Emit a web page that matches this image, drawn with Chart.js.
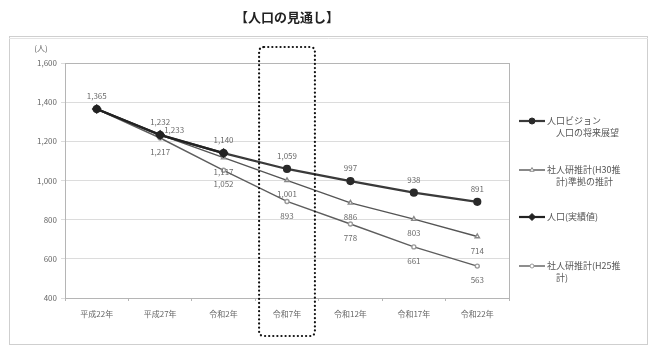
<!DOCTYPE html>
<html lang="ja">
<head>
<meta charset="utf-8">
<title>人口の見通し</title>
<script src="https://cdn.jsdelivr.net/npm/chart.js@4/dist/chart.umd.min.js"></script>
<style>
  html, body { margin: 0; padding: 0; background: #fff; }
  #wrap { width: 655px; height: 349px; position: relative; }
</style>
</head>
<body>
<div id="wrap"><canvas id="c" width="655" height="349"></canvas></div>
<script>
// 年次区分
const categories = ['平成22年', '平成27年', '令和2年', '令和7年', '令和12年', '令和17年', '令和22年'];

// 人口ビジョン 人口の将来展望
const visionValues = [1365, 1232, 1140, 1059, 997, 938, 891];
// 社人研推計(H30推計)準拠の推計
const h30Values = [1365, 1233, 1117, 1001, 886, 803, 714];
// 人口(実績値)
const actualValues = [1365, 1233, 1140, null, null, null, null];
// 社人研推計(H25推計)
const h25Values = [1365, 1217, 1052, 893, 778, 661, 563];

// 軸の目盛
const yTicks = [400, 600, 800, 1000, 1200, 1400, 1600];

// 凡例の表示テキスト(改行位置つき)
const legendVision = ['人口ビジョン', '人口の将来展望'];
const legendH30 = ['社人研推計(H30推', '計)準拠の推計'];
const legendActual = ['人口(実績値)'];
const legendH25 = ['社人研推計(H25推', '計)'];

const JP = '"Noto Sans CJK JP", "Noto Sans", sans-serif';

// 値ラベルの表示位置: 'above' | 'below' | 'right' | null(非表示)
const labelPlacement = {
  vision: [null, 'above', null, 'above', 'above', 'above', 'above'],
  h30:    [null, null, 'below', 'below', 'below', 'below', 'below'],
  actual: ['above', 'right', 'above', null, null, null, null],
  h25:    [null, 'below', 'below', 'below', 'below', 'below', 'below']
};

const fmt = v => v.toLocaleString('en-US');

// 値ラベル描画
const valueLabels = {
  id: 'valueLabels',
  afterDatasetsDraw(chart) {
    const ctx = chart.ctx;
    ctx.save();
    ctx.font = '8px ' + JP;
    ctx.fillStyle = '#6a6a6a';
    ctx.textAlign = 'center';
    ctx.textBaseline = 'middle';
    chart.data.datasets.forEach((ds, i) => {
      const place = labelPlacement[ds.key];
      const meta = chart.getDatasetMeta(i);
      meta.data.forEach((pt, j) => {
        const p = place[j];
        const v = ds.data[j];
        if (!p || v == null) return;
        let x = pt.x, y = pt.y;
        if (p === 'above') y -= 13;
        else if (p === 'below') y += 14;
        else if (p === 'right') { x += 14; y -= 5; }
        ctx.fillText(fmt(v), x, y);
      });
    });
    ctx.restore();
  }
};

// 枠・タイトル・単位・凡例・令和7年の点線枠
const decorations = {
  id: 'decorations',
  beforeDraw(chart) {
    const ctx = chart.ctx;
    ctx.save();
    ctx.fillStyle = '#fff';
    ctx.fillRect(0, 0, chart.width, chart.height);
    // 外枠
    ctx.strokeStyle = '#cfcfcf';
    ctx.lineWidth = 1;
    ctx.strokeRect(9.5, 36.5, 638, 308);
    ctx.strokeStyle = '#e4e4e4';
    ctx.beginPath(); ctx.moveTo(9, 38.5); ctx.lineTo(648, 38.5); ctx.stroke();
    // タイトル
    ctx.fillStyle = '#222';
    ctx.font = 'bold 13px ' + JP;
    ctx.textAlign = 'center';
    ctx.textBaseline = 'middle';
    ctx.fillText('【人口の見通し】', 287, 17);
    // 単位
    ctx.font = '8px ' + JP;
    ctx.fillStyle = '#666';
    ctx.fillText('(人)', 41, 48);
    ctx.restore();
  },
  afterDraw(chart) {
    const ctx = chart.ctx;
    const a = chart.chartArea;
    const xs = chart.scales.x;
    ctx.save();
    // プロットエリア枠
    ctx.strokeStyle = '#b5b5b5';
    ctx.lineWidth = 1;
    ctx.strokeRect(Math.round(a.left) + 0.5, Math.round(a.top) + 0.5, Math.round(a.right - a.left), Math.round(a.bottom - a.top));

    // 凡例
    const items = [
      { ds: 0, text: legendVision, y: 121 },
      { ds: 1, text: legendH30, y: 170 },
      { ds: 2, text: legendActual, y: 217 },
      { ds: 3, text: legendH25, y: 266 }
    ];
    items.forEach(it => {
      const ds = chart.data.datasets[it.ds];
      ctx.strokeStyle = ds.borderColor;
      ctx.lineWidth = ds.borderWidth;
      ctx.beginPath(); ctx.moveTo(519, it.y); ctx.lineTo(545, it.y); ctx.stroke();
      ctx.fillStyle = ds.pointBackgroundColor;
      ctx.strokeStyle = ds.pointBorderColor;
      ctx.lineWidth = 1;
      Chart.helpers.drawPoint(ctx, { pointStyle: ds.pointStyle, radius: ds.pointRadius, borderWidth: 1 }, 532, it.y);
      ctx.fillStyle = '#555';
      ctx.font = '9px ' + JP;
      ctx.textAlign = 'left';
      ctx.textBaseline = 'middle';
      it.text.forEach((t, k) => {
        ctx.fillText(t, k === 0 ? 547 : 556, it.y + k * 12);
      });
    });

    // 令和7年を囲む点線枠
    const cx = xs.getPixelForValue(3);
    const half = (xs.getPixelForValue(1) - xs.getPixelForValue(0)) * 0.44;
    const l = cx - half, r = cx + half, t = a.top - 16, b = a.bottom + 38;
    ctx.strokeStyle = '#111';
    ctx.lineWidth = 2.2;
    ctx.lineCap = 'round';
    ctx.setLineDash([0.1, 4]);
    ctx.beginPath();
    const rad = 5;
    ctx.moveTo(l + rad, t);
    ctx.lineTo(r - rad, t);
    ctx.quadraticCurveTo(r, t, r, t + rad);
    ctx.lineTo(r, b - rad);
    ctx.quadraticCurveTo(r, b, r - rad, b);
    ctx.lineTo(l + rad, b);
    ctx.quadraticCurveTo(l, b, l, b - rad);
    ctx.lineTo(l, t + rad);
    ctx.quadraticCurveTo(l, t, l + rad, t);
    ctx.stroke();
    ctx.restore();
  }
};

const chart = new Chart(document.getElementById('c'), {
  type: 'line',
  data: {
    labels: categories,
    datasets: [
      {
        key: 'vision', label: '人口ビジョン 人口の将来展望', data: visionValues,
        borderColor: '#3a3a3a', borderWidth: 2.2,
        pointStyle: 'circle', pointRadius: 3,
        pointBackgroundColor: '#2a2a2a', pointBorderColor: '#2a2a2a', order: 2
      },
      {
        key: 'h30', label: '社人研推計(H30推計)準拠の推計', data: h30Values,
        borderColor: '#555', borderWidth: 1.4,
        pointStyle: 'triangle', pointRadius: 2.5,
        pointBackgroundColor: '#fff', pointBorderColor: '#888', order: 3
      },
      {
        key: 'actual', label: '人口(実績値)', data: actualValues,
        borderColor: '#222', borderWidth: 2.2,
        pointStyle: 'rectRot', pointRadius: 3.5,
        pointBackgroundColor: '#222', pointBorderColor: '#222', order: 1
      },
      {
        key: 'h25', label: '社人研推計(H25推計)', data: h25Values,
        borderColor: '#5e5e5e', borderWidth: 1.4,
        pointStyle: 'circle', pointRadius: 2,
        pointBackgroundColor: '#fff', pointBorderColor: '#999', order: 4
      }
    ]
  },
  options: {
    responsive: false,
    animation: false,
    devicePixelRatio: 1,
    layout: { padding: { top: 63, right: 146, bottom: 0, left: 0 } },
    plugins: { legend: { display: false }, title: { display: false }, tooltip: { enabled: false } },
    scales: {
      x: {
        offset: true,
        grid: { display: true, drawOnChartArea: false, drawTicks: true, tickLength: 3, offset: true, color: '#b5b5b5' },
        border: { color: '#b5b5b5' },
        ticks: { font: { size: 8, family: JP }, color: '#666', padding: 8, maxRotation: 0 },
        afterFit(s) { s.height = 51; }
      },
      y: {
        min: yTicks[0], max: yTicks[yTicks.length - 1],
        afterBuildTicks(s) { s.ticks = yTicks.map(v => ({ value: v })); },
        grid: { color: '#dcdcdc', tickLength: 4, drawTicks: true },
        border: { color: '#b5b5b5' },
        ticks: { font: { size: 8, family: JP }, color: '#666', padding: 4, callback: v => fmt(v) },
        afterFit(s) { s.width = 65; }
      }
    }
  },
  plugins: [decorations, valueLabels]
});
</script>
</body>
</html>
